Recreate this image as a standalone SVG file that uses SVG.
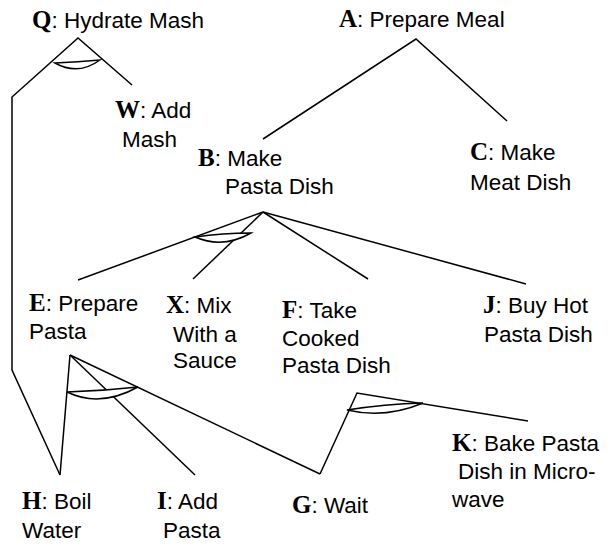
<svg xmlns="http://www.w3.org/2000/svg" width="610" height="546" viewBox="0 0 610 546">
<style>
text{font-family:"Liberation Sans",Arial,sans-serif;font-size:22.5px;fill:#000}
.L{font-family:"Liberation Serif","Times New Roman",serif;font-weight:bold;font-size:25px}
.c{fill:none;stroke:#000;stroke-width:1.5;stroke-linejoin:miter}
.arc{fill:#fff;stroke:#000;stroke-width:1.5}
</style>
<rect width="610" height="546" fill="#fff"/>
<g id="connectors">
<polyline class="c" points="132,85 78,38 12,97 12,370 60,475"/>
<polyline class="c" points="263,139 416,39 507,121"/>
<line class="c" x1="263" y1="212" x2="78" y2="280"/>
<line class="c" x1="263" y1="212" x2="193" y2="279"/>
<line class="c" x1="263" y1="212" x2="368" y2="279"/>
<line class="c" x1="263" y1="212" x2="526" y2="284"/>
<line class="c" x1="70" y1="355" x2="60" y2="475"/>
<line class="c" x1="70" y1="355" x2="195" y2="475"/>
<line class="c" x1="70" y1="355" x2="320" y2="474"/>
<polyline class="c" points="320,474 357,393 528,421"/>
<path class="arc" d="M55,63 Q78,62 100,60 Q78,76 55,63 Z"/>
<path class="arc" d="M195,237 Q223,233 251,233 Q223,249 195,237 Z"/>
<path class="arc" d="M67,392 Q103,391 138,387 Q100,408 67,392 Z"/>
<path class="arc" d="M347,410 Q385,404 423,403 Q385,419 347,410 Z"/>
</g>
<g id="Q"><text x="32" y="28"><tspan class="L">Q</tspan>: Hydrate Mash</text></g>
<g id="A"><text x="339" y="27"><tspan class="L">A</tspan>: Prepare Meal</text></g>
<g id="W"><text x="115" y="118"><tspan class="L">W</tspan>: Add</text><text x="122" y="147">Mash</text></g>
<g id="B"><text x="198" y="166"><tspan class="L">B</tspan>: Make</text><text x="225" y="194">Pasta Dish</text></g>
<g id="C"><text x="470" y="160"><tspan class="L">C</tspan>: Make</text><text x="470" y="190">Meat Dish</text></g>
<g id="E"><text x="29" y="311"><tspan class="L">E</tspan>: Prepare</text><text x="29" y="339">Pasta</text></g>
<g id="X"><text x="166" y="313"><tspan class="L">X</tspan>: Mix</text><text x="173" y="342">With a</text><text x="173" y="368">Sauce</text></g>
<g id="F"><text x="282" y="318"><tspan class="L">F</tspan>: Take</text><text x="282" y="346">Cooked</text><text x="282" y="373">Pasta Dish</text></g>
<g id="J"><text x="483" y="313"><tspan class="L">J</tspan>: Buy Hot</text><text x="484" y="342">Pasta Dish</text></g>
<g id="H"><text x="22" y="509"><tspan class="L">H</tspan>: Boil</text><text x="22" y="538">Water</text></g>
<g id="I"><text x="157" y="509"><tspan class="L">I</tspan>: Add</text><text x="163" y="538">Pasta</text></g>
<g id="G"><text x="292" y="513"><tspan class="L">G</tspan>: Wait</text></g>
<g id="K"><text x="452" y="451"><tspan class="L">K</tspan>: Bake Pasta</text><text x="458" y="479">Dish in Micro-</text><text x="452" y="507">wave</text></g>
</svg>
